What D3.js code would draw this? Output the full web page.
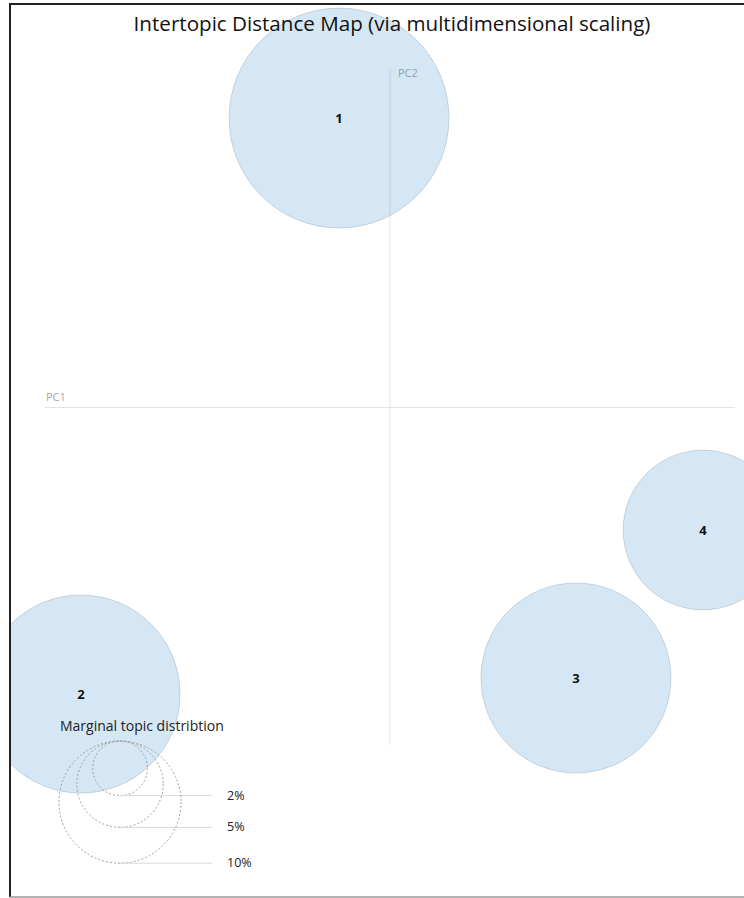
<!DOCTYPE html>
<html>
<head>
<meta charset="utf-8">
<script src="https://cdn.jsdelivr.net/npm/d3@7"></script>
<style>
  html, body { margin: 0; padding: 0; background: #fff; }
  svg { display: block; }
</style>
</head>
<body>
<svg id="chart" width="744" height="898"></svg>
<script>
// Topic coordinates on the first two principal components and marginal share (%)
const topics = ["1", "2", "3", "4"];
const pc1 = [-0.0443, -0.2687, 0.1617, 0.2722];
const pc2 = [0.2573, -0.2547, -0.2404, -0.1089];
const freq = [32.4, 26.3, 24.2, 17.1];

// Legend reference sizes (%)
const legendPct = [2, 5, 10];
const legendLabels = ["2%", "5%", "10%"];

const pcDomain = [-0.3, 0.3];

const svg = d3.select("#chart");
const font = "'Open Sans', 'Noto Sans', sans-serif";

// Frame
const frame = { left: 10, top: 4, bottom: 897 };

svg.append("defs").append("clipPath").attr("id", "plotclip")
  .append("rect")
  .attr("x", frame.left + 1).attr("y", frame.top + 1)
  .attr("width", 744 - frame.left - 1)
  .attr("height", frame.bottom - frame.top - 2);

const plot = { x0: 45, x1: 735, y0: 70, y1: 745 };
const x = d3.scaleLinear().domain(pcDomain).range([plot.x0, plot.x1]);
const y = d3.scaleLinear().domain(pcDomain).range([plot.y1, plot.y0]);
const r = d3.scaleSqrt().domain([0, 100]).range([0, 193.2]);

const g = svg.append("g").attr("clip-path", "url(#plotclip)");

// Principal component axes
g.append("line")
  .attr("x1", x(pcDomain[0])).attr("x2", x(pcDomain[1]))
  .attr("y1", y(0)).attr("y2", y(0))
  .attr("stroke", "#e3e3e3").attr("stroke-width", 1);
g.append("line")
  .attr("x1", x(0)).attr("x2", x(0))
  .attr("y1", y(pcDomain[1])).attr("y2", y(pcDomain[0]))
  .attr("stroke", "#e3e3e3").attr("stroke-width", 1);

g.append("text")
  .attr("x", x(pcDomain[0]) + 1).attr("y", y(0) - 7)
  .attr("font-family", font).attr("font-size", 11)
  .attr("fill", "#a8a8a8").text("PC1");
g.append("text")
  .attr("x", x(0) + 8).attr("y", y(pcDomain[1]) + 7)
  .attr("font-family", font).attr("font-size", 11)
  .attr("fill", "#a8a8a8").text("PC2");

// Topic circles (translucent so the axes show through)
const data = topics.map((t, i) => ({ t, x: pc1[i], y: pc2[i], f: freq[i] }));

g.selectAll("circle.topic").data(data).join("circle")
  .attr("class", "topic")
  .attr("cx", d => x(d.x)).attr("cy", d => y(d.y)).attr("r", d => r(d.f))
  .attr("fill", "rgb(45,135,200)").attr("fill-opacity", 0.2)
  .attr("stroke", "rgb(60,80,95)").attr("stroke-opacity", 0.2)
  .attr("stroke-width", 1);

g.selectAll("text.topic").data(data).join("text")
  .attr("class", "topic")
  .attr("x", d => x(d.x)).attr("y", d => y(d.y) + 5)
  .attr("text-anchor", "middle")
  .attr("font-family", font).attr("font-size", 13)
  .attr("font-weight", "bold").attr("fill", "#111")
  .text(d => d.t);

// Legend: marginal topic distribution
const lg = { cx: 120, top: 741, lineEnd: 212, labelX: 227 };
g.append("text")
  .attr("x", 60).attr("y", 731)
  .attr("font-family", font).attr("font-size", 14)
  .attr("fill", "#222").text("Marginal topic distribtion");

legendPct.forEach((p, i) => {
  const rr = r(p);
  g.append("circle")
    .attr("cx", lg.cx).attr("cy", lg.top + rr).attr("r", rr)
    .attr("fill", "none").attr("stroke", "#a0a0a0")
    .attr("stroke-width", 1).attr("stroke-dasharray", "2 2");
  g.append("line")
    .attr("x1", lg.cx).attr("x2", lg.lineEnd)
    .attr("y1", lg.top + 2 * rr).attr("y2", lg.top + 2 * rr)
    .attr("stroke", "#d8d8d8").attr("stroke-width", 1);
  g.append("text")
    .attr("x", lg.labelX).attr("y", lg.top + 2 * rr + 4)
    .attr("font-family", font).attr("font-size", 12.5)
    .attr("fill", "#222").text(legendLabels[i]);
});

// Title
svg.append("text")
  .attr("x", 392).attr("y", 31)
  .attr("text-anchor", "middle")
  .attr("font-family", font).attr("font-size", 20.6)
  .attr("fill", "#111")
  .text("Intertopic Distance Map (via multidimensional scaling)");

// Frame lines
svg.append("line").attr("x1", frame.left).attr("x2", 744)
  .attr("y1", frame.top).attr("y2", frame.top)
  .attr("stroke", "#222").attr("stroke-width", 2);
svg.append("line").attr("x1", frame.left).attr("x2", frame.left)
  .attr("y1", frame.top - 1).attr("y2", frame.bottom)
  .attr("stroke", "#222").attr("stroke-width", 2);
svg.append("line").attr("x1", frame.left).attr("x2", 744)
  .attr("y1", frame.bottom).attr("y2", frame.bottom)
  .attr("stroke", "#999").attr("stroke-width", 1.5);
</script>
</body>
</html>
